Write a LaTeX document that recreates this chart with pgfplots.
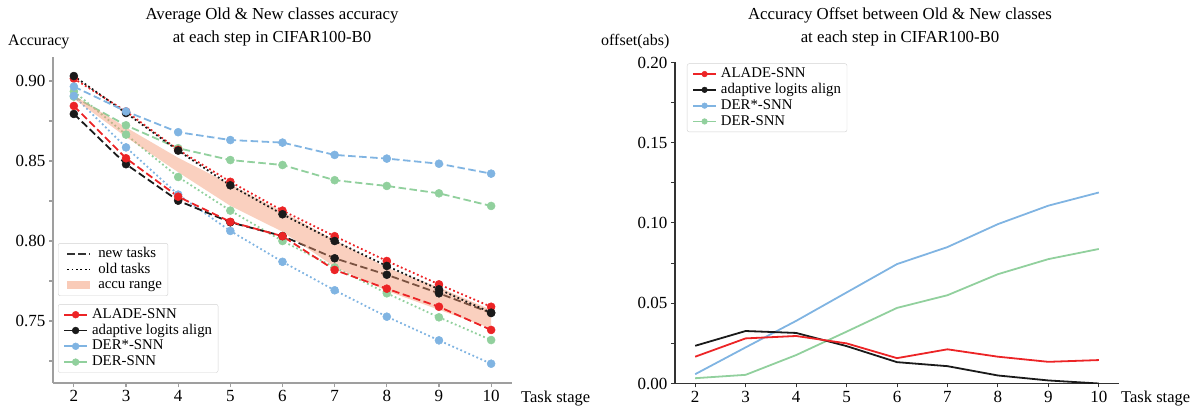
\documentclass[border=0pt]{standalone}
\usepackage{fontspec}
\setmainfont{Liberation Serif}
\usepackage{pgfplots}
\pgfplotsset{compat=1.18}

\definecolor{cred}{RGB}{236,36,38}
\definecolor{cblack}{RGB}{26,26,26}
\definecolor{cblue}{RGB}{128,180,226}
\definecolor{cgreen}{RGB}{145,208,157}
\definecolor{cband}{RGB}{243,151,113}
\definecolor{cbandl}{RGB}{249,203,184}

\pgfplotsset{
  base/.style={
    scale only axis, anchor=south west,
    xmin=1.6, xmax=10.4, xtick={2,...,10},
    axis lines*=left,
    tick align=outside, major tick length=4pt, minor tick length=4pt,
    tick label style={font=\fontsize{17}{17}\selectfont},
    /pgf/number format/assume math mode=true,
    yticklabel style={/pgf/number format/.cd, fixed, fixed zerofill, precision=2},
    legend image code/.code={\draw[mark repeat=2,mark phase=2,#1] plot coordinates {(0pt,0pt) (11.5pt,0pt) (23pt,0pt)};},
    legend cell align=left,
    legend style={draw=gray!35, rounded corners=2pt, fill=white,
      font=\fontsize{14.8}{14.8}\selectfont, inner xsep=5pt, inner ysep=2.5pt,
      row sep=0pt, column sep=3pt,
      nodes={inner sep=1pt, text height=10.5pt, text depth=3.3pt}},
  },
  newt/.style={dash pattern=on 7.5pt off 3.5pt, line width=1.8pt},
  oldt/.style={dash pattern=on 1.8pt off 2.6pt, line width=1.8pt},
  dots/.style={mark=*, mark size=4pt, mark options={solid, line width=0.5pt}},
  lmark/.style={line width=1.8pt, mark=*, mark size=3.4pt, mark options={solid, line width=0.5pt}},
}

\begin{document}
\begin{tikzpicture}
\path[use as bounding box] (0,0) rectangle (1199pt,412pt);

% ---------- left: accuracy ----------
\begin{axis}[base, at={(53pt,29pt)}, width=459pt, height=326pt,
    ymin=0.71125, ymax=0.915,
    ytick={0.75,0.80,0.85,0.90}, minor ytick={0.725,0.775,0.825,0.875},
    axis line style={gray!75, line width=1.3pt},
    tick style={gray!75, line width=1.1pt},
    legend style={at={(0.011,0.429)}, anchor=north west}]
\addlegendimage{newt, black!80, no marks}
\addlegendentry{new tasks}
\addlegendimage{oldt, black, no marks}
\addlegendentry{old tasks}
\addlegendimage{line width=8pt, cbandl, no marks}
\addlegendentry{accu range}

% DER-SNN, DER*-SNN old
\addplot[forget plot, oldt, dots, cgreen] coordinates {(2,0.8935)(3,0.8665)(4,0.840)(5,0.819)(6,0.800)(7,0.7835)(8,0.7673)(9,0.7523)(10,0.7381)};
\addplot[forget plot, newt, dots, cgreen] coordinates {(2,0.8902)(3,0.8723)(4,0.858)(5,0.8506)(6,0.8475)(7,0.838)(8,0.8344)(9,0.8298)(10,0.8219)};
\addplot[forget plot, oldt, dots, cblue] coordinates {(2,0.8907)(3,0.8585)(4,0.829)(5,0.8063)(6,0.787)(7,0.7692)(8,0.7527)(9,0.7379)(10,0.7233)};
% adaptive logits align new
\addplot[forget plot, newt, dots, cblack] coordinates {(2,0.8794)(3,0.848)(4,0.8252)(5,0.8117)(6,0.8031)(7,0.7892)(8,0.7789)(9,0.7673)(10,0.755)};
% accu range band
\addplot[forget plot, draw=none, fill=cband, fill opacity=0.45] coordinates {
  (2,0.891)(3,0.871)(4,0.852)(5,0.8355)(6,0.8183)(7,0.8006)(8,0.7833)(9,0.771)(10,0.757)
  (10,0.7454)(9,0.757)(8,0.7688)(7,0.7839)(6,0.8058)(5,0.822)(4,0.843)(3,0.865)(2,0.889)};
% ALADE-SNN
\addplot[forget plot, newt, dots, cred] coordinates {(2,0.8844)(3,0.8517)(4,0.8277)(5,0.812)(6,0.803)(7,0.7819)(8,0.7702)(9,0.7589)(10,0.7444)};
\addplot[forget plot, oldt, dots, cred] coordinates {(2,0.9015)(3,0.881)(4,0.857)(5,0.837)(6,0.819)(7,0.803)(8,0.7875)(9,0.7729)(10,0.7589)};
% adaptive logits align old
\addplot[forget plot, oldt, dots, cblack] coordinates {(2,0.9031)(3,0.880)(4,0.8565)(5,0.8348)(6,0.8167)(7,0.800)(8,0.7844)(9,0.7698)(10,0.7552)};
% DER*-SNN new
\addplot[forget plot, newt, dots, cblue] coordinates {(2,0.8965)(3,0.881)(4,0.868)(5,0.8631)(6,0.8615)(7,0.8538)(8,0.8515)(9,0.8483)(10,0.8421)};
\end{axis}

% second legend (methods) on the left
\begin{axis}[base, at={(53pt,29pt)}, width=459pt, height=326pt,
    ymin=0.71125, ymax=0.915, hide axis,
    legend style={at={(0.011,0.242)}, anchor=north west}]
\addlegendimage{lmark, cred}
\addlegendentry{ALADE-SNN}
\addlegendimage{lmark, cblack}
\addlegendentry{adaptive logits align}
\addlegendimage{lmark, cblue}
\addlegendentry{DER*-SNN}
\addlegendimage{lmark, cgreen}
\addlegendentry{DER-SNN}
\end{axis}

% ---------- right: offset ----------
\begin{axis}[base, at={(675pt,28.5pt)}, width=444pt, height=321pt,
    ymin=0, ymax=0.2,
    ytick={0,0.05,0.10,0.15,0.20}, minor ytick={0.025,0.075,0.125,0.175},
    axis line style={black!80, line width=1.1pt},
    tick style={black!80, line width=1pt},
    legend style={at={(0.027,0.997)}, anchor=north west}]
\addlegendimage{lmark, mark size=2.8pt, cred}
\addlegendentry{ALADE-SNN}
\addlegendimage{lmark, mark size=2.8pt, cblack}
\addlegendentry{adaptive logits align}
\addlegendimage{lmark, mark size=2.8pt, cblue}
\addlegendentry{DER*-SNN}
\addlegendimage{lmark, mark size=2.8pt, cgreen}
\addlegendentry{DER-SNN}

\addplot[forget plot, cgreen, line width=1.8pt] coordinates {(2,0.0033)(3,0.0054)(4,0.0177)(5,0.0323)(6,0.0471)(7,0.055)(8,0.0681)(9,0.0775)(10,0.0838)};
\addplot[forget plot, cblue, line width=1.8pt] coordinates {(2,0.0058)(3,0.0225)(4,0.039)(5,0.0567)(6,0.0744)(7,0.085)(8,0.0993)(9,0.1108)(10,0.119)};
\addplot[forget plot, cblack, line width=1.8pt] coordinates {(2,0.0235)(3,0.0327)(4,0.0315)(5,0.0233)(6,0.0133)(7,0.0108)(8,0.005)(9,0.0019)(10,0.0)};
\addplot[forget plot, cred, line width=1.8pt] coordinates {(2,0.0167)(3,0.0281)(4,0.0296)(5,0.025)(6,0.0158)(7,0.0213)(8,0.0167)(9,0.0135)(10,0.0146)};
\end{axis}

% ---------- titles and axis labels ----------
\node[align=center, font=\fontsize{16.8}{23}\selectfont] at (272pt,385pt) {Average Old \& New classes accuracy\\at each step in CIFAR100-B0};
\node[align=center, font=\fontsize{16.8}{23}\selectfont] at (900pt,385pt) {Accuracy Offset between Old \& New classes\\at each step in CIFAR100-B0};
\node[anchor=west, font=\fontsize{16}{16}\selectfont, inner sep=0pt] at (8pt,370pt) {Accuracy};
\node[anchor=west, font=\fontsize{16}{16}\selectfont, inner sep=0pt] at (601pt,370pt) {offset(abs)};
\node[anchor=west, font=\fontsize{16.5}{16.5}\selectfont, inner sep=0pt] at (521pt,13pt) {Task stage};
\node[anchor=west, font=\fontsize{16.5}{16.5}\selectfont, inner sep=0pt] at (1121pt,13pt) {Task stage};
\end{tikzpicture}
\end{document}
